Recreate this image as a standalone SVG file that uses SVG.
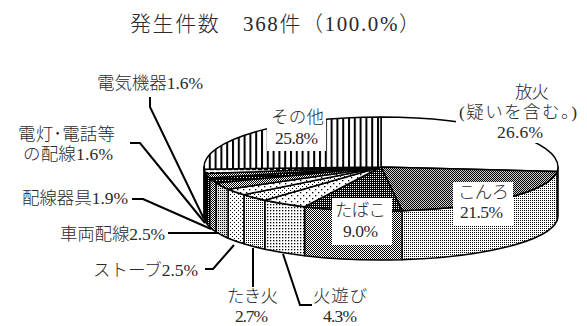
<svg xmlns="http://www.w3.org/2000/svg" width="587" height="326" viewBox="0 0 587 326">
<style>
.t{font-family:'Liberation Serif','Noto Sans CJK JP',serif;font-size:17.5px;font-weight:300;fill:#2a2a2a}
.title{font-size:21px}
.e{stroke:#000;stroke-width:1.5;stroke-linejoin:round}
.lead{fill:none;stroke:#000;stroke-width:2}
.box{fill:#fff;stroke:none}
</style>
<defs>
<pattern id="pVert" width="5.8" height="10" patternUnits="userSpaceOnUse"><rect width="5.8" height="10" fill="#fff"/><rect width="2" height="10" fill="#000"/></pattern>
<pattern id="pKonroTop" width="2" height="2" patternUnits="userSpaceOnUse"><rect width="2" height="2" fill="#ccc"/><rect width="1" height="1" fill="#000"/><rect x="1" y="1" width="1" height="1" fill="#000"/></pattern>
<pattern id="pD25" width="2" height="2" patternUnits="userSpaceOnUse"><rect width="2" height="2" fill="#fff"/><rect width="1" height="1" fill="#000"/></pattern>
<pattern id="pD50" width="2" height="2" patternUnits="userSpaceOnUse"><rect width="2" height="2" fill="#fff"/><rect width="1" height="1" fill="#000"/><rect x="1" y="1" width="1" height="1" fill="#000"/></pattern>
<pattern id="pD75" width="2" height="2" patternUnits="userSpaceOnUse"><rect width="2" height="2" fill="#000"/><rect width="1" height="1" fill="#fff"/></pattern>
<pattern id="pDark3" width="3" height="3" patternUnits="userSpaceOnUse"><rect width="3" height="3" fill="#000"/><rect width="1" height="1" fill="#fff"/></pattern>
<pattern id="pSparse" width="4" height="4" patternUnits="userSpaceOnUse"><rect width="4" height="4" fill="#fff"/><rect width="1" height="1" fill="#000"/><rect x="2" y="2" width="1" height="1" fill="#000"/></pattern>
<pattern id="pFine3" width="3" height="3" patternUnits="userSpaceOnUse"><rect width="3" height="3" fill="#fff"/><rect width="1.3" height="1.3" fill="#000"/></pattern>
<pattern id="pDots6" width="6" height="6" patternUnits="userSpaceOnUse"><rect width="6" height="6" fill="#fff"/><rect width="1.3" height="1.3" fill="#000"/><rect x="3" y="3" width="1.3" height="1.3" fill="#000"/></pattern>
<pattern id="pLight" width="2" height="2" patternUnits="userSpaceOnUse"><rect width="2" height="2" fill="#ddd"/><rect width="1" height="1" fill="#000"/></pattern>
<pattern id="pHdash" width="6" height="3" patternUnits="userSpaceOnUse"><rect width="6" height="3" fill="#fff"/><rect y="1" width="4" height="1.2" fill="#000"/></pattern>
</defs>
<rect width="587" height="326" fill="#fff"/>
<g id="title"><text class="t title" x="130" y="31" textLength="290">発生件数　368件（100.0%）</text></g>

<g id="houka">
<path class="e" fill="#fff" d="M558 167 A177 44 0 0 1 557.1 171.4 L557.1 220.4 A177 44 0 0 0 558 216 Z"/>
<path class="e" fill="#fff" d="M381 167 L381 117 A177 50 0 0 1 558 167 A177 44 0 0 1 557.1 171.4 Z"/>
<rect class="box" x="456" y="84" width="124" height="59"/>
<text class="t" x="515" y="98" textLength="34">放火</text>
<text class="t" x="459" y="118" textLength="118">(疑いを含む。)</text>
<text class="t" x="497" y="138" textLength="46">26.6%</text>
</g>

<g id="konro">
<path class="e" fill="url(#pD25)" d="M557.1 171.4 A177 44 0 0 1 402.1 210.7 L402.1 259.7 A177 44 0 0 0 557.1 220.4 Z"/>
<path class="e" fill="url(#pKonroTop)" d="M381 167 L557.1 171.4 A177 44 0 0 1 402.1 210.7 Z"/>
<rect class="box" x="453" y="182" width="60" height="43"/>
<text class="t" x="458" y="198" textLength="51">こんろ</text>
<text class="t" x="460" y="218" textLength="43">21.5%</text>
</g>

<g id="tabako">
<path class="e" fill="url(#pD50)" d="M402.1 210.7 A177 44 0 0 1 304.6 206.7 L304.6 255.7 A177 44 0 0 0 402.1 259.7 Z"/>
<path class="e" fill="url(#pD75)" d="M381 167 L402.1 210.7 A177 44 0 0 1 304.6 206.7 Z"/>
<rect class="box" x="332" y="198" width="60" height="47"/>
<text class="t" x="335" y="216" textLength="51">たばこ</text>
<text class="t" x="343" y="237" textLength="35">9.0%</text>
</g>

<g id="hiasobi">
<path class="e" fill="url(#pFine3)" d="M304.6 206.7 A177 44 0 0 1 264.8 200.2 L264.8 249.2 A177 44 0 0 0 304.6 255.7 Z"/>
<path class="e" fill="url(#pDots6)" d="M381 167 L304.6 206.7 A177 44 0 0 1 264.8 200.2 Z"/>
<text class="t" x="313" y="302" textLength="54">火遊び</text>
<text class="t" x="323" y="321.5" textLength="34">4.3%</text>
</g>

<g id="takibi">
<path class="e" fill="url(#pD25)" d="M264.8 200.2 A177 44 0 0 1 243.9 194.8 L243.9 243.8 A177 44 0 0 0 264.8 249.2 Z"/>
<path class="e" fill="url(#pSparse)" d="M381 167 L264.8 200.2 A177 44 0 0 1 243.9 194.8 Z"/>
<text class="t" x="227" y="302" textLength="51">たき火</text>
<text class="t" x="235" y="321.5" textLength="33">2.7%</text>
</g>

<g id="stove">
<path class="e" fill="url(#pSparse)" d="M243.9 194.8 A177 44 0 0 1 228.1 189.2 L228.1 238.2 A177 44 0 0 0 243.9 243.8 Z"/>
<path class="e" fill="url(#pDots6)" d="M381 167 L243.9 194.8 A177 44 0 0 1 228.1 189.2 Z"/>
<text class="t" x="93" y="276" textLength="105">ストーブ2.5%</text>
</g>

<g id="sharyo">
<path class="e" fill="url(#pLight)" d="M228.1 189.2 A177 44 0 0 1 216 182.9 L216 231.9 A177 44 0 0 0 228.1 238.2 Z"/>
<path class="e" fill="url(#pD50)" d="M381 167 L228.1 189.2 A177 44 0 0 1 216 182.9 Z"/>
<text class="t" x="60" y="240" textLength="105">車両配線2.5%</text>
</g>

<g id="haisenkigu">
<path class="e" fill="url(#pD50)" d="M216 182.9 A177 44 0 0 1 209.6 177.9 L209.6 226.9 A177 44 0 0 0 216 231.9 Z"/>
<path class="e" fill="url(#pDark3)" d="M381 167 L216 182.9 A177 44 0 0 1 209.6 177.9 Z"/>
<text class="t" x="22" y="204" textLength="106">配線器具1.9%</text>
</g>

<g id="dento">
<path class="e" fill="url(#pD75)" d="M209.6 177.9 A177 44 0 0 1 206 173.6 L206 222.6 A177 44 0 0 0 209.6 226.9 Z"/>
<path class="e" fill="url(#pD50)" d="M381 167 L209.6 177.9 A177 44 0 0 1 206 173.6 Z"/>
<text class="t" x="18" y="140" textLength="97">電灯･電話等</text>
<text class="t" x="23" y="160" textLength="90">の配線1.6%</text>
</g>

<g id="denkikiki">
<path class="e" fill="url(#pDark3)" d="M206 173.6 A177 44 0 0 1 204.2 169.2 L204.2 218.2 A177 44 0 0 0 206 222.6 Z"/>
<path class="e" fill="url(#pHdash)" d="M381 167 L206 173.6 A177 44 0 0 1 204.2 169.2 Z"/>
<text class="t" x="97" y="89" textLength="106">電気機器1.6%</text>
</g>

<g id="sonota">
<path class="e" fill="url(#pVert)" d="M204.2 169.2 A177 44 0 0 1 204 167 L204 216 A177 44 0 0 0 204.2 218.2 Z"/>
<path class="e" fill="url(#pVert)" d="M381 167 L204.2 169.2 A177 44 0 0 1 204 167 A177 50 0 0 1 381 117 Z"/>
<rect class="box" x="267" y="105" width="59" height="46"/>
<text class="t" x="271" y="123" textLength="53">その他</text>
<text class="t" x="275" y="144" textLength="43">25.8%</text>
</g>

<g id="connectors">
<polyline class="lead" points="150,97 150,107 204,219"/>
<polyline class="lead" points="130,143 140,143 205,223"/>
<polyline class="lead" points="132,199 143,199 211,229"/>
<polyline class="lead" points="168,233 219,233"/>
<polyline class="lead" points="205,269 213,269 234,245"/>
<polyline class="lead" points="253,287 253,248"/>
<polyline class="lead" points="312,305 300,305 283,254"/>
</g>
</svg>
